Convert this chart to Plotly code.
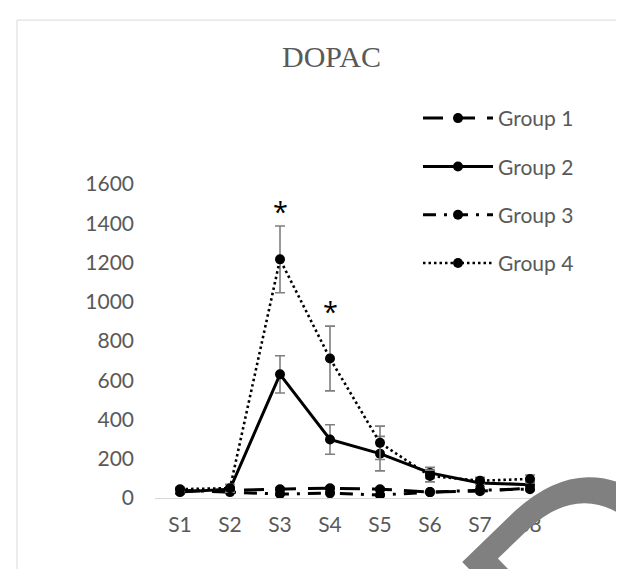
import plotly.graph_objects as go

categories = ["S1", "S2", "S3", "S4", "S5", "S6", "S7", "S8"]
group_names = ["Group 1", "Group 2", "Group 3", "Group 4"]

group1 = [35, 40, 45, 50, 45, 30, 35, 50]
group1_err = [8, 8, 8, 8, 8, 6, 8, 8]
group2 = [30, 45, 630, 298, 226, 128, 77, 68]
group2_err = [10, 15, 95, 75, 88, 28, 20, 18]
group3 = [40, 30, 20, 25, 15, 30, 40, 45]
group3_err = [8, 6, 6, 6, 6, 6, 8, 8]
group4 = [45, 50, 1216, 711, 281, 112, 88, 97]
group4_err = [10, 20, 170, 165, 85, 30, 18, 20]

sig_categories = ["S3", "S4"]
sig_labels = ["*", "*"]

y_ticks = [0, 200, 400, 600, 800, 1000, 1200, 1400, 1600]

values = [group1, group2, group3, group4]
errors = [group1_err, group2_err, group3_err, group4_err]
dashes = ["20px,12px", "solid", "13px,8px,3px,8px", "2.5px,3px"]
widths = [3, 3, 3, 2.6]

FONT = "Lato, 'Open Sans', sans-serif"
GREY = "#595959"

fig = go.Figure()
for i, name in enumerate(group_names):
    fig.add_trace(go.Scatter(
        x=categories, y=values[i], name=name, legendgroup=name,
        mode="lines+markers",
        line=dict(color="black", width=widths[i], dash=dashes[i]),
        marker=dict(symbol="circle", size=10, color="black"),
        error_y=dict(type="data", array=errors[i], visible=True,
                     color="#7f7f7f", thickness=1.6, width=5),
    ))

# significance marks above Group 4 error bars
annotations = []
for c, lab in zip(sig_categories, sig_labels):
    idx = categories.index(c)
    annotations.append(dict(
        x=c, y=group4[idx] + group4_err[idx], xref="x", yref="y",
        text=lab, showarrow=False, yanchor="middle", yshift=15,
        font=dict(family="'Open Sans', sans-serif", size=27, color="black"),
    ))

# title
annotations.append(dict(
    x=0.44, y=1.4045, xref="paper", yref="paper", text="DOPAC",
    showarrow=False, xanchor="center", yanchor="middle",
    font=dict(family="'Liberation Serif', 'Times New Roman', serif", size=30, color=GREY),
))

# watermark
annotations.append(dict(
    x=1.185, y=-0.142, xref="paper", yref="paper", text="Dr",
    showarrow=False, xanchor="center", yanchor="middle", textangle=-44,
    font=dict(family="'Liberation Sans', Arial, sans-serif", size=300, color="#808080"),
))

fig.update_layout(
    width=624, height=569,
    margin=dict(l=147, r=77, t=176, b=79),
    paper_bgcolor="white", plot_bgcolor="white",
    showlegend=True,
    legend=dict(
        x=0.6575, y=1.274, xanchor="left", yanchor="top",
        font=dict(family=FONT, size=21, color=GREY),
        itemwidth=70, tracegroupgap=18, bgcolor="rgba(0,0,0,0)",
    ),
    annotations=annotations,
    shapes=[dict(type="rect", xref="paper", yref="paper",
                 x0=-0.345, x1=1.6, y0=-0.6, y1=1.522,
                 line=dict(color="#d9d9d9", width=1), fillcolor="rgba(0,0,0,0)",
                 layer="below")],
)
fig.update_xaxes(
    type="category", range=[-0.5, 7.5], showgrid=False, zeroline=False,
    showline=True, linecolor="#d9d9d9", linewidth=1.3, ticks="",
    ticklabelstandoff=8,
    tickfont=dict(family=FONT, size=21, color=GREY),
)
fig.update_yaxes(
    range=[0, 1600], tickvals=y_ticks, showgrid=False, zeroline=False,
    showline=False, ticks="", ticklabelstandoff=20,
    tickfont=dict(family=FONT, size=21, color=GREY),
)

fig.write_html("out.html")
